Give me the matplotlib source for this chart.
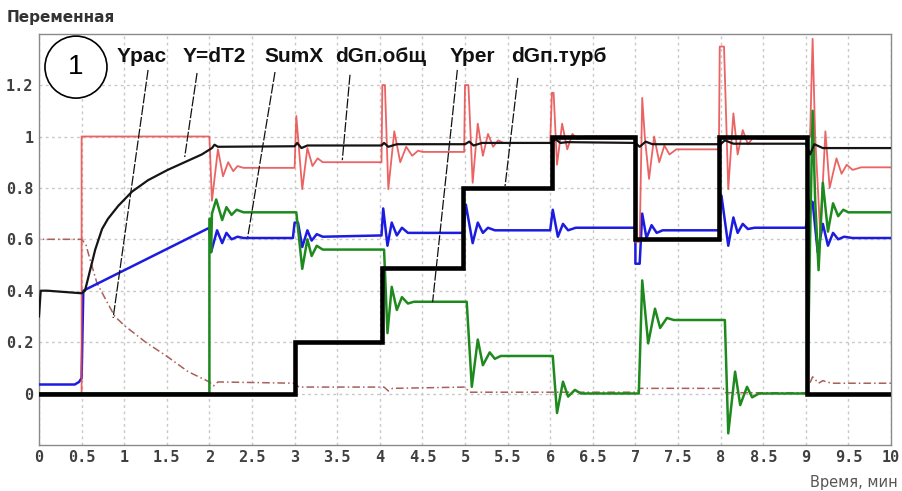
import matplotlib
matplotlib.use("Agg")
import matplotlib.pyplot as plt
from matplotlib.patches import Ellipse

# ---------------- data (time in minutes) ----------------
turb_t = [0, 3.0, 4.02, 4.98, 6.02, 7.0, 7.98, 9.01, 10]
turb_y = [0, 0.2, 0.49, 0.80, 1.0, 0.6, 1.0, 0.0, 0.0]

obsch_t = [0, 0.5, 0.5, 2.0, 2.03, 2.1, 2.16, 2.22, 2.28, 2.33, 2.4, 3.0, 3.02, 3.09, 3.15, 3.21,
           3.27, 3.33, 4.02, 4.03, 4.06, 4.1, 4.17, 4.24, 4.31, 4.38, 4.45, 4.5, 4.99, 5.0, 5.04,
           5.09, 5.15, 5.21, 5.27, 5.33, 5.39, 5.45, 6.0, 6.02, 6.04, 6.08, 6.14, 6.2, 6.26, 6.32,
           6.4, 7.0, 7.0, 7.05, 7.08, 7.11, 7.16, 7.22, 7.28, 7.34, 7.4, 7.48, 7.98, 7.99, 8.04,
           8.09, 8.15, 8.2, 8.26, 8.32, 8.38, 8.45, 9.0, 9.05, 9.08, 9.11, 9.17, 9.23, 9.28, 9.36,
           9.42, 9.48, 9.55, 9.65, 10]
obsch_y = [0, 0, 1.0, 1.0, 0.75, 0.95, 0.845, 0.90, 0.865, 0.885, 0.878, 0.878, 1.08, 0.795,
           0.955, 0.885, 0.915, 0.90, 0.90, 1.2, 1.2, 0.795, 1.02, 0.90, 0.96, 0.925, 0.945, 0.94,
           0.94, 1.2, 1.2, 0.82, 1.05, 0.925, 1.01, 0.96, 0.985, 0.975, 0.975, 1.17, 1.17, 0.89,
           1.05, 0.95, 1.01, 0.99, 1.0, 1.0, 0.59, 0.59, 1.15, 1.0, 0.835, 1.0, 0.90, 0.965, 0.93,
           0.95, 0.95, 1.35, 1.35, 0.795, 1.09, 0.93, 1.025, 0.97, 0.995, 0.99, 0.99, 1.0, 1.38,
           1.0, 0.62, 1.02, 0.80, 0.915, 0.855, 0.89, 0.87, 0.88, 0.88]

sumx_t = [0, 0.42, 0.47, 0.5, 0.52, 2.0, 2.02, 2.09, 2.15, 2.2, 2.26, 2.33, 2.4, 2.98, 3.0, 3.04,
          3.09, 3.15, 3.2, 3.26, 3.33, 4.02, 4.04, 4.09, 4.14, 4.2, 4.26, 4.33, 4.98, 5.01, 5.09,
          5.15, 5.21, 5.27, 5.35, 6.0, 6.03, 6.09, 6.15, 6.21, 6.3, 7.0, 7.0, 7.05, 7.08, 7.13,
          7.19, 7.25, 7.32, 7.98, 8.01, 8.09, 8.15, 8.2, 8.26, 8.32, 8.4, 9.0, 9.05, 9.08, 9.14,
          9.2, 9.26, 9.32, 9.38, 9.45, 9.55, 10]
sumx_y = [0.035, 0.035, 0.045, 0.06, 0.40, 0.645, 0.55, 0.635, 0.585, 0.625, 0.60, 0.61, 0.605,
          0.605, 0.665, 0.665, 0.57, 0.635, 0.595, 0.62, 0.61, 0.615, 0.72, 0.575, 0.665, 0.615,
          0.645, 0.625, 0.625, 0.735, 0.585, 0.665, 0.625, 0.645, 0.635, 0.635, 0.715, 0.61, 0.66,
          0.635, 0.645, 0.645, 0.505, 0.505, 0.70, 0.605, 0.655, 0.625, 0.635, 0.635, 0.77, 0.575,
          0.685, 0.625, 0.66, 0.64, 0.645, 0.645, 0.75, 0.745, 0.55, 0.66, 0.575, 0.625, 0.60,
          0.61, 0.605, 0.605]

yper_t = [0, 2.0, 2.0, 2.01, 2.02, 2.03, 2.08, 2.15, 2.2, 2.26, 2.32, 2.4, 3.02, 3.09, 3.15, 3.2,
          3.26, 3.33, 4.05, 4.09, 4.14, 4.2, 4.26, 4.33, 4.4, 5.02, 5.08, 5.15, 5.21, 5.29, 5.35,
          5.42, 6.03, 6.08, 6.15, 6.21, 6.29, 6.36, 7.04, 7.08, 7.15, 7.23, 7.29, 7.37, 7.45, 8.05,
          8.09, 8.17, 8.23, 8.31, 8.37, 8.45, 9.02, 9.05, 9.08, 9.11, 9.15, 9.2, 9.26, 9.32, 9.38,
          9.44, 9.5, 10]
yper_y = [0, 0, 0.68, 0.68, 0.55, 0.70, 0.755, 0.675, 0.725, 0.695, 0.715, 0.705, 0.705, 0.485,
          0.60, 0.535, 0.575, 0.56, 0.56, 0.235, 0.415, 0.325, 0.375, 0.35, 0.357, 0.357, 0.026,
          0.21, 0.11, 0.16, 0.135, 0.146, 0.146, -0.076, 0.046, -0.012, 0.014, 0.0, 0.0, 0.44,
          0.195, 0.33, 0.255, 0.294, 0.286, 0.286, -0.155, 0.085, -0.045, 0.026, -0.015, 0.0, 0.0,
          0.6, 1.1, 0.75, 0.48, 0.82, 0.63, 0.74, 0.69, 0.715, 0.705, 0.705]

dt2_t = [0, 0.02, 0.1, 0.3, 0.5, 0.54, 0.6, 0.66, 0.74, 0.81, 0.93, 1.09, 1.28, 1.51, 1.71, 1.91,
         2.03, 2.06, 2.1, 3.0, 3.03, 3.08, 3.15, 4.02, 4.05, 4.1, 4.2, 5.0, 5.05, 5.1, 5.2, 6.02,
         6.06, 6.12, 6.2, 7.0, 7.05, 7.12, 7.2, 8.0, 8.05, 8.15, 9.0, 9.05, 9.1, 9.2, 10]
dt2_y = [0.3, 0.40, 0.40, 0.395, 0.39, 0.40, 0.48, 0.56, 0.64, 0.68, 0.73, 0.785, 0.83, 0.87,
         0.90, 0.93, 0.955, 0.968, 0.96, 0.962, 0.975, 0.955, 0.965, 0.965, 0.975, 0.96, 0.97,
         0.97, 0.98, 0.965, 0.975, 0.975, 0.99, 0.975, 0.978, 0.975, 0.96, 0.98, 0.97, 0.97,
         0.985, 0.972, 0.972, 0.93, 0.97, 0.955, 0.955]

yras_t = [0, 0, 0.5, 0.55, 0.6, 0.68, 0.8, 0.89, 1.0, 1.25, 1.5, 1.75, 2.0, 2.05, 2.1, 3.0, 3.05,
          4.05, 4.1, 4.15, 5.0, 5.05, 7.02, 7.05, 8.03, 8.06, 9.0, 9.08, 9.15, 9.2, 9.3, 10]
yras_y = [-0.2, 0.6, 0.6, 0.58, 0.52, 0.43, 0.355, 0.30, 0.265, 0.20, 0.145, 0.085, 0.045, 0.03,
          0.045, 0.04, 0.025, 0.025, 0.01, 0.02, 0.025, 0.005, 0.005, 0.02, 0.02, 0.003, 0.003,
          0.065, 0.04, 0.05, 0.04, 0.04]

x_ticks = [i * 0.5 for i in range(21)]
x_ticklabels = ["0", "0.5", "1", "1.5", "2", "2.5", "3", "3.5", "4", "4.5", "5", "5.5", "6",
                "6.5", "7", "7.5", "8", "8.5", "9", "9.5", "10"]
y_ticks = [0, 0.2, 0.4, 0.6, 0.8, 1.0, 1.2]
y_ticklabels = ["0", "0.2", "0.4", "0.6", "0.8", "1", "1.2"]

labels = ["Yрас", "Y=dT2", "SumX", "dGп.общ", "Yper", "dGп.турб"]
label_x = [0.91, 1.68, 2.65, 3.47, 4.82, 5.54]
# leader lines: start (near label) and end (on curve)
lead_x0 = [1.28, 1.855, 2.77, 3.65, 4.91, 5.62]
lead_y0 = [1.259, 1.247, 1.251, 1.24, 1.259, 1.228]
lead_x1 = [0.87, 1.71, 2.45, 3.56, 4.62, 5.47]
lead_y1 = [0.294, 0.92, 0.609, 0.908, 0.356, 0.807]

# ---------------- figure ----------------
fig = plt.figure(figsize=(9.02, 4.91), dpi=100)
ax = fig.add_axes([39 / 902, 1 - 444.9 / 491, 852 / 902, 411.2 / 491])
ax.set_xlim(0, 10)
ax.set_ylim(-0.2, 1.4)

ax.set_xticks(x_ticks)
ax.set_xticklabels(x_ticklabels)
ax.set_yticks(y_ticks)
ax.set_yticklabels(y_ticklabels)
ax.tick_params(length=0, pad=4, labelsize=11, labelcolor="#404040")
for lab in ax.get_xticklabels() + ax.get_yticklabels():
    lab.set_family("DejaVu Sans Mono")
    lab.set_fontweight("bold")

ax.grid(True, color="#c8c8c8", linestyle=(0, (2, 2.5)), linewidth=1.0)
ax.set_axisbelow(True)
for s in ax.spines.values():
    s.set_color("#8a8a8a")
    s.set_linewidth(1.0)

ax.plot(yras_t, yras_y, color="#a8605a", lw=1.1, linestyle=(0, (5, 2, 1, 2)), zorder=2)
ax.plot(sumx_t, sumx_y, color="#1c1ce0", lw=1.8, zorder=3)
ax.plot(obsch_t, obsch_y, color="#e84848", lw=1.3, alpha=0.85, zorder=4)
ax.plot(yper_t, yper_y, color="#1e8a1e", lw=1.8, zorder=5)
ax.plot(dt2_t, dt2_y, color="#151515", lw=1.6, zorder=6)
ax.step(turb_t, turb_y, where="post", color="black", lw=3.3, zorder=7, solid_joinstyle="miter")

for i, name in enumerate(labels):
    ax.text(label_x[i], 1.288, name, ha="left", va="baseline", fontsize=15,
            fontweight="bold", family="Liberation Sans", color="#111111", zorder=9)
    ax.plot([lead_x0[i], lead_x1[i]], [lead_y0[i], lead_y1[i]], color="#111111", lw=0.9,
            linestyle=(0, (8, 1.5)), zorder=8)

circ = Ellipse((0.434, 1.27), width=62 / 85.2, height=62 / 257, facecolor="white",
               edgecolor="black", lw=1.2, zorder=9)
ax.add_patch(circ)
ax.text(0.434, 1.27, "1", ha="center", va="center", fontsize=20, family="Liberation Sans",
        color="black", zorder=10)

fig.text(7 / 902, 1 - 22 / 491, "Переменная", ha="left", va="baseline", fontsize=11,
         fontweight="bold", family="DejaVu Sans", color="#333333")
fig.text(898 / 902, 1 - 487 / 491, "Время, мин", ha="right", va="baseline", fontsize=10.5,
         family="DejaVu Sans", color="#555555")

fig.savefig("out.png", dpi=100)
